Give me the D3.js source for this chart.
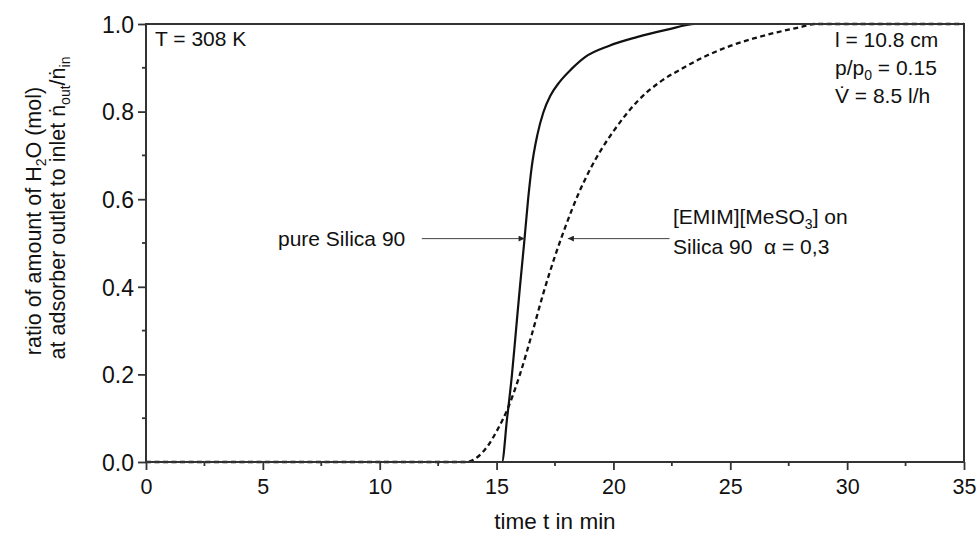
<!DOCTYPE html>
<html>
<head>
<meta charset="utf-8">
<script src="https://cdn.jsdelivr.net/npm/d3@7/dist/d3.min.js"></script>
<style>
  html, body { margin: 0; padding: 0; background: #fff; }
  svg { display: block; font-family: "Liberation Sans", Arial, sans-serif; }
</style>
</head>
<body>
<svg id="chart" width="979" height="534"></svg>
<script>
// ---- data ----
const xTicks = [0, 5, 10, 15, 20, 25, 30, 35];
const yTicks = [0.0, 0.2, 0.4, 0.6, 0.8, 1.0];

// pure Silica 90 (solid)
const solidT = [0, 15.23, 15.45, 15.66, 15.83, 16.0, 16.18, 16.35, 16.5, 16.75, 17.0, 17.3, 17.7, 18.2, 18.8, 19.8, 21.0, 22.3, 23.5, 35];
const solidV = [0, 0, 0.1, 0.2, 0.3, 0.4, 0.5, 0.6, 0.672, 0.748, 0.798, 0.836, 0.868, 0.897, 0.925, 0.95, 0.97, 0.987, 1.0, 1.0];

// [EMIM][MeSO3] on Silica 90 (dashed)
const dashT = [0, 13.7, 14.2, 14.6, 15.0, 15.5, 16.0, 16.5, 17.0, 17.5, 18.0, 18.5, 19.0, 19.5, 20.0, 21.0, 22.0, 23.0, 24.0, 25.0, 26.0, 27.0, 28.0, 28.6, 35];
const dashV = [0, 0, 0.012, 0.035, 0.07, 0.125, 0.2, 0.29, 0.385, 0.47, 0.545, 0.612, 0.668, 0.715, 0.755, 0.822, 0.868, 0.9, 0.928, 0.95, 0.967, 0.981, 0.993, 1.0, 1.0];

// annotation arrows: [label-side t, curve-side t, value]
const arrowSolid = [11.8, 16.2, 0.51];
const arrowDash = [22.4, 18.05, 0.51];

// ---- drawing ----
const svg = d3.select("#chart");
const L = 146, R = 964, T = 24, B = 462;
const x = d3.scaleLinear().domain([0, 35]).range([L, R]);
const y = d3.scaleLinear().domain([0, 1]).range([B, T]);
const axisColor = "#333";

const defs = svg.append("defs");
defs.append("marker").attr("id", "ah").attr("viewBox", "0 0 10 10")
  .attr("refX", 10).attr("refY", 5).attr("markerWidth", 10).attr("markerHeight", 6)
  .attr("markerUnits", "userSpaceOnUse").attr("orient", "auto")
  .append("path").attr("d", "M0,0 L10,5 L0,10 Z").attr("fill", "#222");

// curves
const line = d3.line().x(d => x(d[0])).y(d => y(d[1])).curve(d3.curveMonotoneX);
svg.append("path").datum(dashT.map((t, i) => [t, dashV[i]]))
  .attr("d", line).attr("fill", "none").attr("stroke", "#111")
  .attr("stroke-width", 2.3).attr("stroke-dasharray", "5,3.5");
svg.append("path").datum(solidT.map((t, i) => [t, solidV[i]]))
  .attr("d", line).attr("fill", "none").attr("stroke", "#111")
  .attr("stroke-width", 2.2);

// axes
const fs = 21;
const xAxis = d3.axisBottom(x).tickValues(xTicks).tickSize(8).tickPadding(9).tickFormat(d3.format("d"));
const gx = svg.append("g").attr("transform", `translate(0,${B})`).call(xAxis);
const yAxis = d3.axisLeft(y).tickValues(yTicks).tickSize(8).tickPadding(4).tickFormat(d3.format(".1f"));
const gy = svg.append("g").attr("transform", `translate(${L},0)`).call(yAxis);
[gx, gy].forEach(g => {
  g.select(".domain").remove();
  g.selectAll("line").attr("stroke", axisColor).attr("stroke-width", 1.8);
  g.selectAll("text").attr("fill", "#111")
    .attr("font-family", "'Liberation Sans', Arial, sans-serif");
});
gx.selectAll("text").attr("font-size", 21.5);
gy.selectAll("text").attr("font-size", 23).attr("dy", "0.36em");
// minor ticks
const xMinor = xTicks.slice(0, -1).map(v => v + 2.5);
const yMinor = yTicks.slice(0, -1).map(v => v + 0.1);
svg.append("g").selectAll("line").data(xMinor).join("line")
  .attr("x1", d => x(d)).attr("x2", d => x(d)).attr("y1", B).attr("y2", B + 4)
  .attr("stroke", axisColor).attr("stroke-width", 1.8);
svg.append("g").selectAll("line").data(yMinor).join("line")
  .attr("y1", d => y(d)).attr("y2", d => y(d)).attr("x1", L).attr("x2", L - 4)
  .attr("stroke", axisColor).attr("stroke-width", 1.8);
// frame
svg.append("rect").attr("x", L).attr("y", T).attr("width", R - L).attr("height", B - T)
  .attr("fill", "none").attr("stroke", axisColor).attr("stroke-width", 2);

// axis titles
svg.append("text").attr("x", (L + R) / 2).attr("y", 529).attr("text-anchor", "middle")
  .attr("font-size", 22.5).attr("fill", "#111").text("time t in min");

const yl1 = svg.append("text").attr("transform", "translate(41,221) rotate(-90)")
  .attr("text-anchor", "middle").attr("font-size", 21.5).attr("fill", "#111");
yl1.append("tspan").text("ratio of amount of H");
yl1.append("tspan").attr("font-size", 14).attr("dy", 5).text("2");
yl1.append("tspan").attr("dy", -5).text("O (mol)");

const yl2 = svg.append("text").attr("transform", "translate(65,208) rotate(-90)")
  .attr("text-anchor", "middle").attr("font-size", 21.5).attr("fill", "#111");
yl2.append("tspan").text("at adsorber outlet to inlet \u1E45");
yl2.append("tspan").attr("font-size", 14).attr("dy", 5).text("out");
yl2.append("tspan").attr("dy", -5).text("/\u1E45");
yl2.append("tspan").attr("font-size", 14).attr("dy", 5).text("in");

// condition labels
svg.append("text").attr("x", 155).attr("y", 46).attr("font-size", fs).attr("fill", "#111").text("T = 308 K");
svg.append("text").attr("x", 835).attr("y", 47).attr("font-size", fs).attr("fill", "#111").text("l = 10.8 cm");
const pp = svg.append("text").attr("x", 835).attr("y", 75).attr("font-size", fs).attr("fill", "#111");
pp.append("tspan").text("p/p");
pp.append("tspan").attr("font-size", 14).attr("dy", 5).text("0");
pp.append("tspan").attr("dy", -5).text(" = 0.15");
svg.append("text").attr("x", 835).attr("y", 103).attr("font-size", fs).attr("fill", "#111").text("V\u0307 = 8.5 l/h");

// annotations
svg.append("text").attr("x", 278).attr("y", 246).attr("font-size", fs).attr("fill", "#111").text("pure Silica 90");
svg.append("line").attr("x1", x(arrowSolid[0])).attr("x2", x(arrowSolid[1]))
  .attr("y1", y(arrowSolid[2])).attr("y2", y(arrowSolid[2]))
  .attr("stroke", "#444").attr("stroke-width", 1).attr("marker-end", "url(#ah)");
svg.append("line").attr("x1", x(arrowDash[0])).attr("x2", x(arrowDash[1]))
  .attr("y1", y(arrowDash[2])).attr("y2", y(arrowDash[2]))
  .attr("stroke", "#444").attr("stroke-width", 1).attr("marker-end", "url(#ah)");

const em = svg.append("text").attr("x", 673).attr("y", 224).attr("font-size", fs).attr("fill", "#111");
em.append("tspan").text("[EMIM][MeSO");
em.append("tspan").attr("font-size", 14).attr("dy", 5).text("3");
em.append("tspan").attr("dy", -5).text("] on");
svg.append("text").attr("x", 673).attr("y", 254).attr("font-size", fs).attr("fill", "#111")
  .attr("xml:space", "preserve").text("Silica 90  \u03B1 = 0,3");
</script>
</body>
</html>
